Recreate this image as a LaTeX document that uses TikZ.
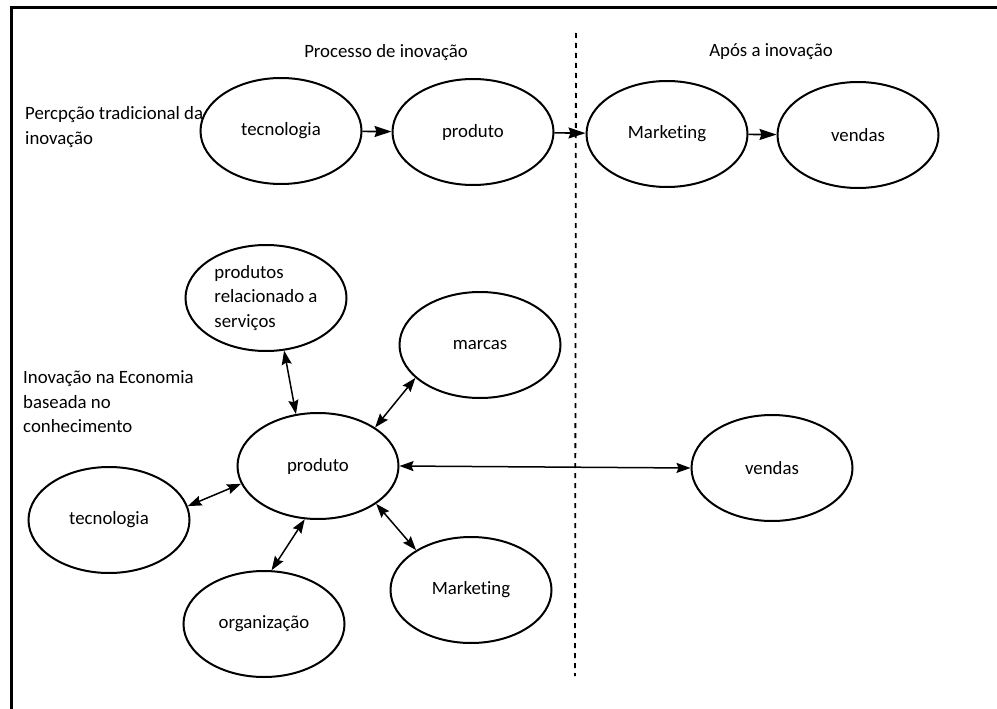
\documentclass[tikz,border=0pt]{standalone}
\usepackage{fontspec}
\setmainfont[Ligatures=CommonOff]{Carlito}
\usetikzlibrary{shapes,arrows.meta,positioning}

\tikzset{
  bolha/.style={draw, ellipse, line width=2pt, minimum width=161pt, minimum height=106pt, inner sep=0pt},
  seta/.style={-{Stealth[length=17pt,width=11pt,inset=2pt]}, line width=1.6pt},
  dupla/.style={{Stealth[length=14pt,width=10pt,inset=2pt]}-{Stealth[length=14pt,width=10pt,inset=2pt]}, line width=1.5pt},
  rotulo/.style={anchor=west, align=left, inner sep=0pt},
}

\begin{document}
\begin{tikzpicture}[x=1pt,y=-1pt, every node/.style={font=\fontsize{18.8}{24.5}\selectfont}]
        \useasboundingbox (0,0) rectangle (997,709);
        % moldura
        \draw[line width=3pt] (11,709) -- (11,8) -- (997,8);
        % divisoria
        \coordinate (divtop) at (576,33);
        \coordinate (divbot) at (575,676);
        \draw[line width=1.8pt, dash pattern=on 5pt off 5pt] (divtop) -- (divbot);

        % titulos
        \node (processo) at (386,53) {Processo de inovação};
        \node (apos) at (771,52) {Após a inovação};
        \node[rotulo] (tradicional) at (25,127) {Percpção tradicional da\\inovação};
        \node[rotulo] (economia) at (23,402) {Inovação na Economia\\baseada no\\conhecimento};

        % percepcao tradicional
        \node[bolha] (tec1) at (281,131) {tecnologia};
        \node[bolha] (prod1) at (473,132) {produto};
        \node[bolha] (mkt1) at (667,134) {Marketing};
        \node[bolha] (vend1) at (858,135) {vendas};
        \draw[seta] (tec1) -- (prod1);
        \draw[seta] (prod1) -- (mkt1);
        \draw[seta] (mkt1) -- (vend1);

        % economia do conhecimento
        \node[bolha] (prod2) at (318,466) {produto};
        \node[bolha, align=left] (serv) at (266,298) {produtos\\relacionado a\\serviços};
        \node[bolha] (marcas) at (480,345) {marcas};
        \node[bolha] (tec2) at (109,520) {tecnologia};
        \node[bolha] (org) at (264,624) {organização};
        \node[bolha] (mkt2) at (471,590) {Marketing};
        \node[bolha] (vend2) at (772,468) {vendas};
        \draw[dupla] (prod2.113) -- (serv.289);
        \draw[dupla] (prod2.34) -- (marcas.207);
        \draw[dupla] (prod2.193) -- (tec2.10);
        \draw[dupla] (prod2.256) -- (org.82);
        \draw[dupla] (prod2.327) -- (mkt2.144);
        \draw[dupla] (prod2.east) -- (vend2.west);
      \end{tikzpicture}
\end{document}
